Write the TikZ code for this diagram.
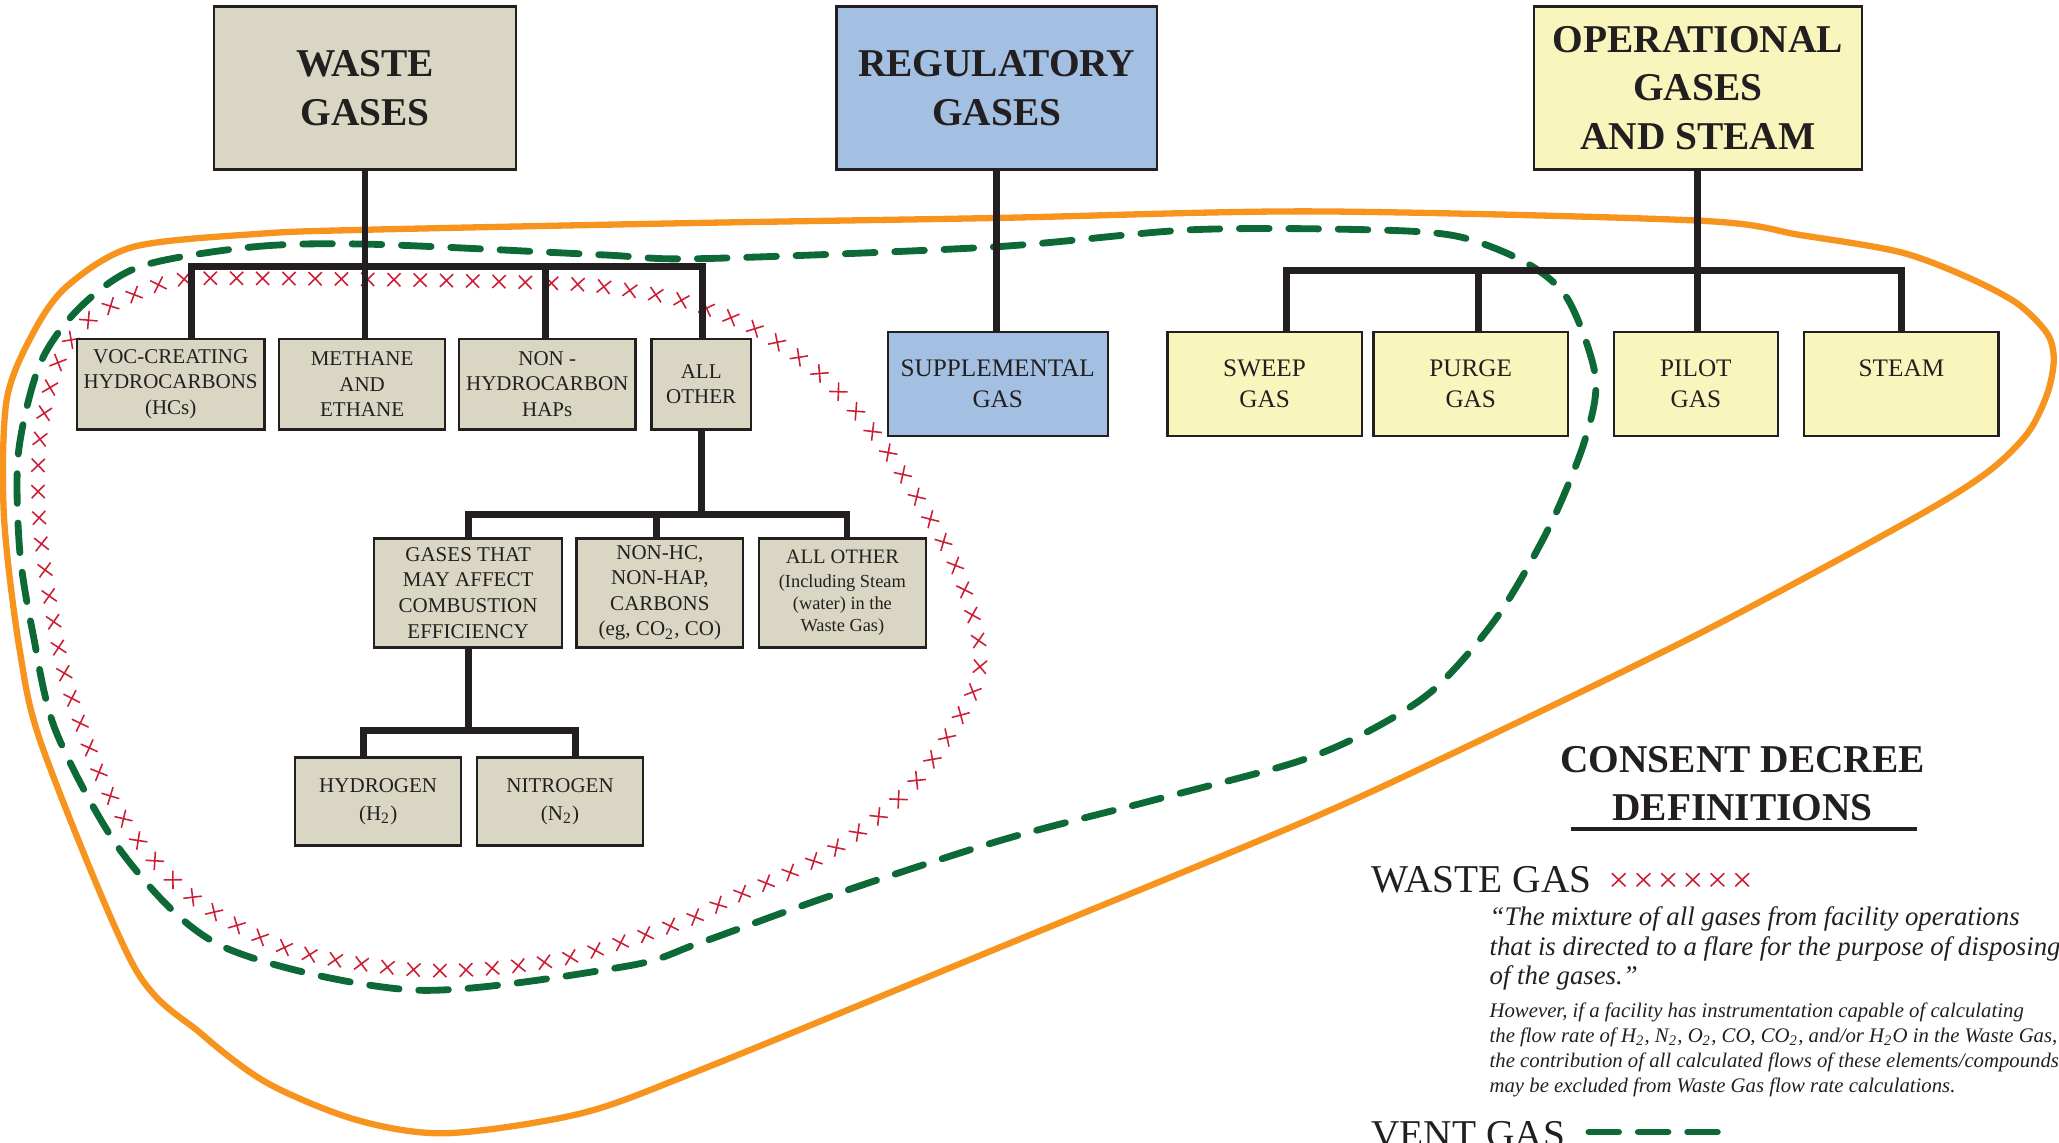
\documentclass[tikz,border=0pt]{standalone}
\usepackage{fontspec}
\setmainfont{Liberation Serif}
\usetikzlibrary{decorations.markings}
\definecolor{beige}{HTML}{D9D7C3}
\definecolor{regblue}{HTML}{A3BFE2}
\definecolor{opyellow}{HTML}{F8F6BD}
\definecolor{edge}{HTML}{231F20}
\definecolor{flareorange}{HTML}{F7941E}
\definecolor{ventgreen}{HTML}{0D6A37}
\definecolor{wastered}{HTML}{CC1F36}
\newcommand{\smallf}{\fontsize{7}{8.4}\selectfont}
\begin{document}
\begin{tikzpicture}[x=0.5pt,y=-0.5pt,
  box/.style={draw=edge, line width=0.9pt, inner sep=0pt, align=center, text=edge},
  titlebox/.style={box, font=\bfseries\fontsize{15}{18.5}\selectfont, minimum height=62pt},
  leftbox/.style={box, fill=beige, font=\fontsize{8}{9.8}\selectfont, minimum height=34.5pt},
  rightbox/.style={box, font=\fontsize{9.6}{11.7}\selectfont, minimum height=39.7pt},
  midbox/.style={box, fill=beige, font=\fontsize{8}{9.75}\selectfont, minimum height=41.5pt, minimum width=63.5pt},
  lowbox/.style={box, fill=beige, font=\fontsize{8}{10.4}\selectfont, minimum height=33.5pt, minimum width=63.3pt},
  conn/.style={draw=edge, line width=2.6pt},
  flare/.style={draw=flareorange, line width=2.4pt},
  vent/.style={draw=ventgreen, line width=2.6pt, line cap=round, dash pattern=on 11.3pt off 7.5pt},
  xline/.style={draw=wastered, line width=0.6pt},
  wastex/.style={decorate, decoration={markings,
      mark=between positions 0 and 1 step 10pt with {\draw[xline] (-2.5pt,-2.5pt) -- (2.5pt,2.5pt) (-2.5pt,2.5pt) -- (2.5pt,-2.5pt);}}},
  legtext/.style={anchor=base west, inner sep=0pt, text=edge}
]
\useasboundingbox (0,0) rectangle (1568,870);
\fill[white] (0,0) rectangle (1568,870);

% ---- boundary curves ----
\draw[flare] plot[smooth cycle] coordinates {
 (101.5,188) (198,178) (278,175) (520,170) (759,166) (1000,161) (1293,168) (1371,179)
 (1447,192) (1498,211) (1536,231) (1559,254) (1564,274) (1559,300) (1544,330) (1513,360)
 (1455,396) (1295,482) (1112,571) (990,627) (760,722) (533,815) (442,848) (340,863)
 (272,853) (204,825) (153,787) (102,736) (33,571) (15,495) (3,393) (5,305) (25,254) (51,218)};

\draw[vent] plot[smooth cycle] coordinates {
 (106.6,203) (193,188) (282,186) (457,194) (533,197) (757,188) (907,175) (1043,175) (1110,180)
 (1162,200) (1194,228) (1215,287) (1207,335) (1180,401) (1140,470) (1092,525)
 (1040,558) (985,581) (876,610) (762,640) (630,683) (533,718) (476,736) (316,754) (170,721)
 (95,652) (43,558) (25,482) (15,419) (14,345) (30.5,277) (61,234)};

\path[wastex] plot[smooth cycle] coordinates {
 (137,213) (200,212) (300,213) (401,215) (457,218) (520,229) (576,251) (627,287)
 (668,333) (701,383) (729,434) (746,493) (739,531) (694,599) (630,650) (555,685)
 (520,702) (425,731) (326,739) (224,724) (153,688) (109,645) (78,594) (51,520)
 (38,457) (30,398) (30,338) (43,279) (66,245) (101.5,224.7)};

% ---- top boxes ----
\node[titlebox, fill=beige, minimum width=115pt] (waste) at (278,67) {WASTE\\GASES};
\node[titlebox, fill=regblue, minimum width=122pt] (reg) at (759,67) {REGULATORY\\GASES};
\node[titlebox, fill=opyellow, minimum width=125pt] (oper) at (1293,67) {OPERATIONAL\\GASES\\AND STEAM};

% ---- second row ----
\node[leftbox, minimum width=71.5pt] (voc) at (130,292.5) {VOC-CREATING\\HYDROCARBONS\\(HCs)};
\node[leftbox, minimum width=63.25pt] (meth) at (275.75,292.5) {METHANE\\AND\\ETHANE};
\node[leftbox, minimum width=67.25pt] (nonhc) at (416.75,292.5) {NON -\\HYDROCARBON\\HAPs};
\node[leftbox, minimum width=38pt] (allo) at (534,292.5) {ALL\\OTHER};

\node[rightbox, fill=regblue, minimum width=83.8pt] (supp) at (759.8,292.3) {SUPPLEMENTAL\\GAS};
\node[rightbox, fill=opyellow, minimum width=74pt] (sweep) at (963,292.3) {SWEEP\\GAS};
\node[rightbox, fill=opyellow, minimum width=74pt] (purge) at (1120,292.3) {PURGE\\GAS};
\node[rightbox, fill=opyellow, minimum width=62.5pt] (pilot) at (1291.5,292.3) {PILOT\\GAS};
\node[rightbox, fill=opyellow, minimum width=74pt] (steam) at (1448,292.3) {STEAM\\\phantom{GAS}};

% ---- third row ----
\node[midbox, minimum width=71.5pt] (gases) at (356.5,451.5) {GASES THAT\\MAY AFFECT\\COMBUSTION\\EFFICIENCY};
\node[midbox] (nonhc2) at (502.5,451.5) {NON-HC,\\NON-HAP,\\CARBONS\\(eg, CO\textsubscript{2}, CO)};
\node[midbox, font=\fontsize{7.8}{9}\selectfont] (allo2) at (641.5,451.5) {ALL OTHER\\[0.2pt]\smallf (Including Steam\\[-0.6pt]\smallf (water) in the\\[-0.6pt]\smallf Waste Gas)};

% ---- fourth row ----
\node[lowbox] (hydro) at (288,610.5) {HYDROGEN\\(H\textsubscript{2})};
\node[lowbox] (nitro) at (426.5,610.5) {NITROGEN\\(N\textsubscript{2})};

% ---- connectors ----
\coordinate (b1l) at (146,203);
\coordinate (b1r) at (535,203);
\coordinate (d1) at (415.5,203);
\draw[conn] (waste.south) -- (waste.south |- meth.north);
\draw[conn] (voc.north -| b1l) -- (b1l) -- (b1r) -- (allo.north -| b1r);
\draw[conn] (d1) -- (d1 |- nonhc.north);

\draw[conn] (reg.south) -- (reg.south |- supp.north);

\coordinate (b2l) at (980,206);
\coordinate (b2r) at (1448,206);
\coordinate (d2) at (1126,206);
\draw[conn] (oper.south) -- (oper.south |- pilot.north);
\draw[conn] (sweep.north -| b2l) -- (b2l) -- (b2r) -- (steam.north -| b2r);
\draw[conn] (d2) -- (d2 |- purge.north);

\coordinate (b3l) at (357,392);
\coordinate (b3r) at (645,392);
\coordinate (d3) at (500,392);
\draw[conn] (allo.south) -- (allo.south |- b3l);
\draw[conn] (gases.north -| b3l) -- (b3l) -- (b3r) -- (allo2.north -| b3r);
\draw[conn] (d3) -- (d3 |- nonhc2.north);

\coordinate (b4l) at (277,556);
\coordinate (b4r) at (438,556);
\draw[conn] (gases.south) -- (gases.south |- b4l);
\draw[conn] (hydro.north -| b4l) -- (b4l) -- (b4r) -- (nitro.north -| b4r);

% ---- legend ----
\node[anchor=base, inner sep=0pt, text=edge, font=\bfseries\fontsize{15}{18}\selectfont] (cd1) at (1327,588) {CONSENT DECREE};
\node[anchor=base, inner sep=0pt, text=edge, font=\bfseries\fontsize{15}{18}\selectfont] (cd2) at (1327,625) {DEFINITIONS};
\coordinate (ul1) at (1196,631);
\coordinate (ul2) at (1460,631);
\draw[draw=edge, line width=1.5pt] (ul1) -- (ul2);

\node[legtext, font=\fontsize{15}{18}\selectfont] (wg) at (1044,680) {WASTE GAS};
\foreach \i in {0,...,5}
  \draw[xline] ([xshift=10.2pt+9.4pt*\i, yshift=5pt]wg.base east) +(-2.6pt,-2.5pt) -- +(2.6pt,2.5pt) +(-2.6pt,2.5pt) -- +(2.6pt,-2.5pt);

\node[legtext, font=\itshape\fontsize{10.2}{11.4}\selectfont] (q1) at (1134,704.6) {“The mixture of all gases from facility operations};
\node[legtext, font=\itshape\fontsize{10.2}{11.4}\selectfont] (q2) at (1134,727.4) {that is directed to a flare for the purpose of disposing};
\node[legtext, font=\itshape\fontsize{10.2}{11.4}\selectfont] (q3) at (1134,750) {of the gases.”};

\node[legtext, font=\itshape\fontsize{7.9}{9.5}\selectfont] (s1) at (1134,775) {However, if a facility has instrumentation capable of calculating};
\node[legtext, font=\itshape\fontsize{7.9}{9.5}\selectfont] (s2) at (1134,794) {the flow rate of H\textsubscript{2}, N\textsubscript{2}, O\textsubscript{2}, CO, CO\textsubscript{2}, and/or H\textsubscript{2}O in the Waste Gas,};
\node[legtext, font=\itshape\fontsize{7.9}{9.5}\selectfont] (s3) at (1134,813) {the contribution of all calculated flows of these elements/compounds};
\node[legtext, font=\itshape\fontsize{7.9}{9.5}\selectfont] (s4) at (1134,832) {may be excluded from Waste Gas flow rate calculations.};

\node[legtext, font=\fontsize{15}{18}\selectfont] (vg) at (1044,874) {VENT GAS};
\coordinate (vd1) at (1210,862);
\coordinate (vd2) at (1308,862);
\draw[vent] (vd1) -- (vd2);
\end{tikzpicture}
\end{document}
